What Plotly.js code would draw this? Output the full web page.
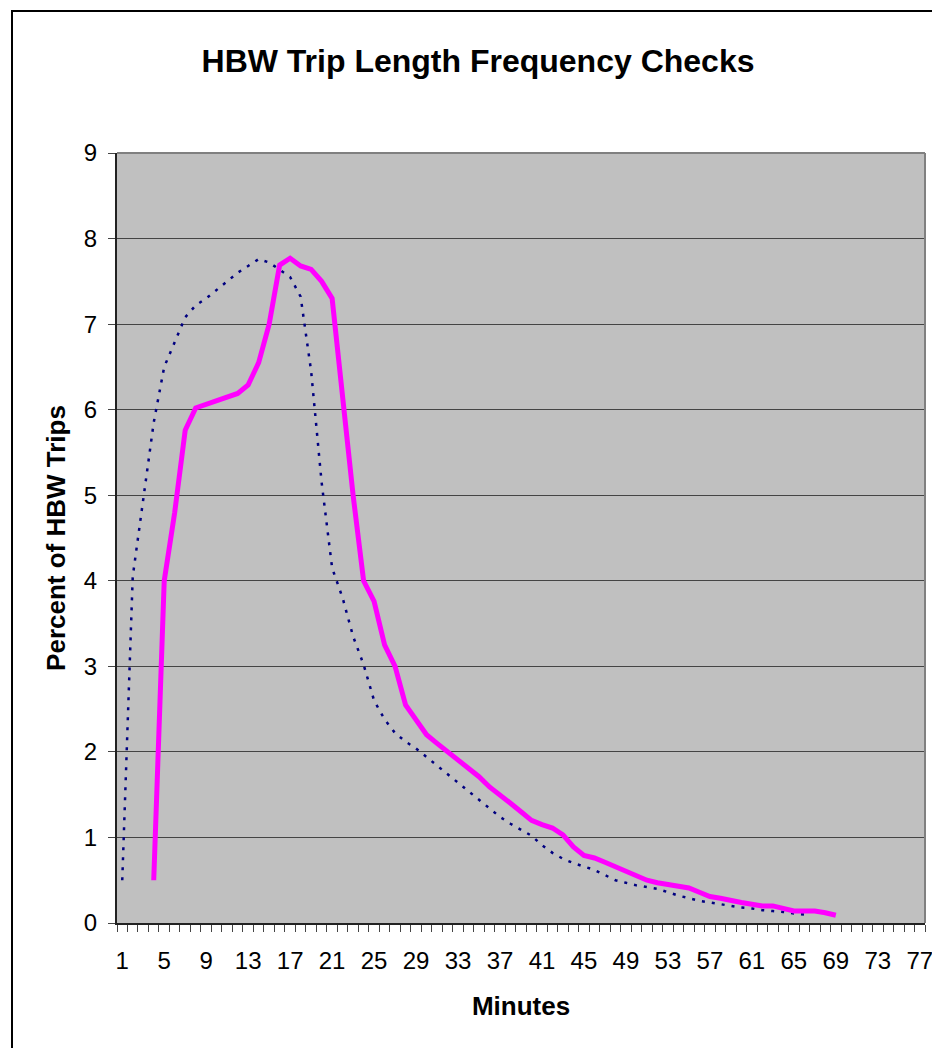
<!DOCTYPE html>
<html>
<head>
<meta charset="utf-8">
<script src="https://cdn.plot.ly/plotly-3.0.1.min.js"></script>
<style>
  html, body { margin: 0; padding: 0; width: 932px; height: 1048px; overflow: hidden; background: #ffffff; }
  #frame { position: absolute; left: 11px; top: 10px; width: 1000px; height: 1100px; border: 2px solid #000; box-sizing: border-box; }
  #chart { position: absolute; left: 0; top: 0; width: 932px; height: 1048px; }
</style>
</head>
<body>
<div id="frame"></div>
<div id="chart"></div>
<script>
// Category axis (minutes)
const tickMinutes = [1, 5, 9, 13, 17, 21, 25, 29, 33, 37, 41, 45, 49, 53, 57, 61, 65, 69, 73, 77];

// Dotted navy series
const dottedMinutes = [1,2,3,4,5,6,7,8,9,10,11,12,13,14,15,16,17,18,19,20,21,22,23,24,25,26,27,28,29,30,31,32,33,34,35,36,37,38,39,40,41,42,43,44,45,46,47,48,49,50,51,52,53,54,55,56,57,58,59,60,61,62,63,64,65,66];
const dottedPercent = [0.5,4.05,4.95,5.85,6.5,6.8,7.08,7.22,7.3,7.4,7.5,7.6,7.68,7.76,7.72,7.64,7.55,7.32,6.45,5.15,4.15,3.8,3.35,3.02,2.6,2.38,2.22,2.12,2.04,1.94,1.84,1.74,1.63,1.53,1.43,1.33,1.24,1.16,1.09,1.02,0.91,0.82,0.75,0.7,0.66,0.62,0.56,0.5,0.47,0.44,0.42,0.4,0.36,0.32,0.29,0.26,0.24,0.22,0.2,0.18,0.17,0.15,0.14,0.13,0.11,0.1];

// Solid magenta series
const solidMinutes = [4,5,6,7,8,9,10,11,12,13,14,15,16,17,18,19,20,21,22,23,24,25,26,27,28,29,30,31,32,33,34,35,36,37,38,39,40,41,42,43,44,45,46,47,48,49,50,51,52,53,54,55,56,57,58,59,60,61,62,63,64,65,66,67,68,69];
const solidPercent = [0.5,4.0,4.8,5.76,6.02,6.06,6.1,6.14,6.19,6.29,6.55,7.0,7.69,7.77,7.68,7.64,7.5,7.3,6.15,5.0,4.0,3.76,3.25,3.0,2.55,2.38,2.2,2.1,2.0,1.9,1.8,1.71,1.59,1.5,1.4,1.3,1.2,1.15,1.11,1.03,0.89,0.79,0.76,0.71,0.66,0.61,0.56,0.5,0.47,0.45,0.43,0.41,0.36,0.31,0.29,0.26,0.24,0.22,0.2,0.2,0.17,0.14,0.14,0.14,0.12,0.09];

const FONT = 'Liberation Sans, Arial, Helvetica, sans-serif';

const traces = [
  {
    x: dottedMinutes, y: dottedPercent, type: 'scatter', mode: 'lines',
    line: { color: '#000080', width: 2.5, dash: '3px,7px' },
    hoverinfo: 'x+y', showlegend: false
  },
  {
    x: solidMinutes, y: solidPercent, type: 'scatter', mode: 'lines',
    line: { color: '#FF00FF', width: 5 },
    hoverinfo: 'x+y', showlegend: false
  }
];

const layout = {
  width: 932, height: 1048,
  margin: { l: 117, r: 7, t: 153, b: 125 },
  paper_bgcolor: 'rgba(0,0,0,0)',
  plot_bgcolor: '#C0C0C0',
  font: { family: FONT, size: 24, color: '#000' },
  title: {
    text: 'HBW Trip Length Frequency Checks',
    font: { family: FONT, size: 32, weight: 700, color: '#000' },
    x: 478 / 932, xref: 'container', xanchor: 'center',
    y: 1 - 61 / 1048, yref: 'container', yanchor: 'middle'
  },
  xaxis: {
    range: [0.5, 77.5],
    tickmode: 'array', tickvals: tickMinutes, ticktext: tickMinutes.map(String),
    ticks: '', ticklabelstandoff: 15, ticklabeloverflow: 'allow',
    tickfont: { family: FONT, size: 24, color: '#000' },
    showgrid: false, zeroline: false,
    showline: true, linecolor: '#222', linewidth: 2,
    minor: { tickmode: 'linear', tick0: 0.5, dtick: 1, ticks: 'outside', ticklen: 7, tickcolor: '#444', tickwidth: 1, showgrid: false },
    title: { text: 'Minutes', font: { family: FONT, size: 26, weight: 700, color: '#000' }, standoff: 24 },
    fixedrange: true
  },
  yaxis: {
    range: [0, 9], tickmode: 'linear', tick0: 0, dtick: 1,
    ticks: 'outside', ticklen: 7, tickcolor: '#444', tickwidth: 1,
    ticklabelstandoff: 6,
    tickfont: { family: FONT, size: 24, color: '#000' },
    showgrid: true, gridcolor: '#444', gridwidth: 1,
    zeroline: false,
    showline: true, linecolor: '#222', linewidth: 2,
    title: { text: 'Percent of HBW Trips', font: { family: FONT, size: 26, weight: 700, color: '#000' }, standoff: 11 },
    fixedrange: true
  },
  shapes: [
    { type: 'line', xref: 'paper', yref: 'paper', x0: 0, x1: 1, y0: 1, y1: 1, line: { color: '#808080', width: 2 }, layer: 'above' },
    { type: 'line', xref: 'paper', yref: 'paper', x0: 1, x1: 1, y0: 0, y1: 1, line: { color: '#808080', width: 2 }, layer: 'above' }
  ]
};

Plotly.newPlot('chart', traces, layout, { displayModeBar: false, staticPlot: true });
</script>
</body>
</html>
